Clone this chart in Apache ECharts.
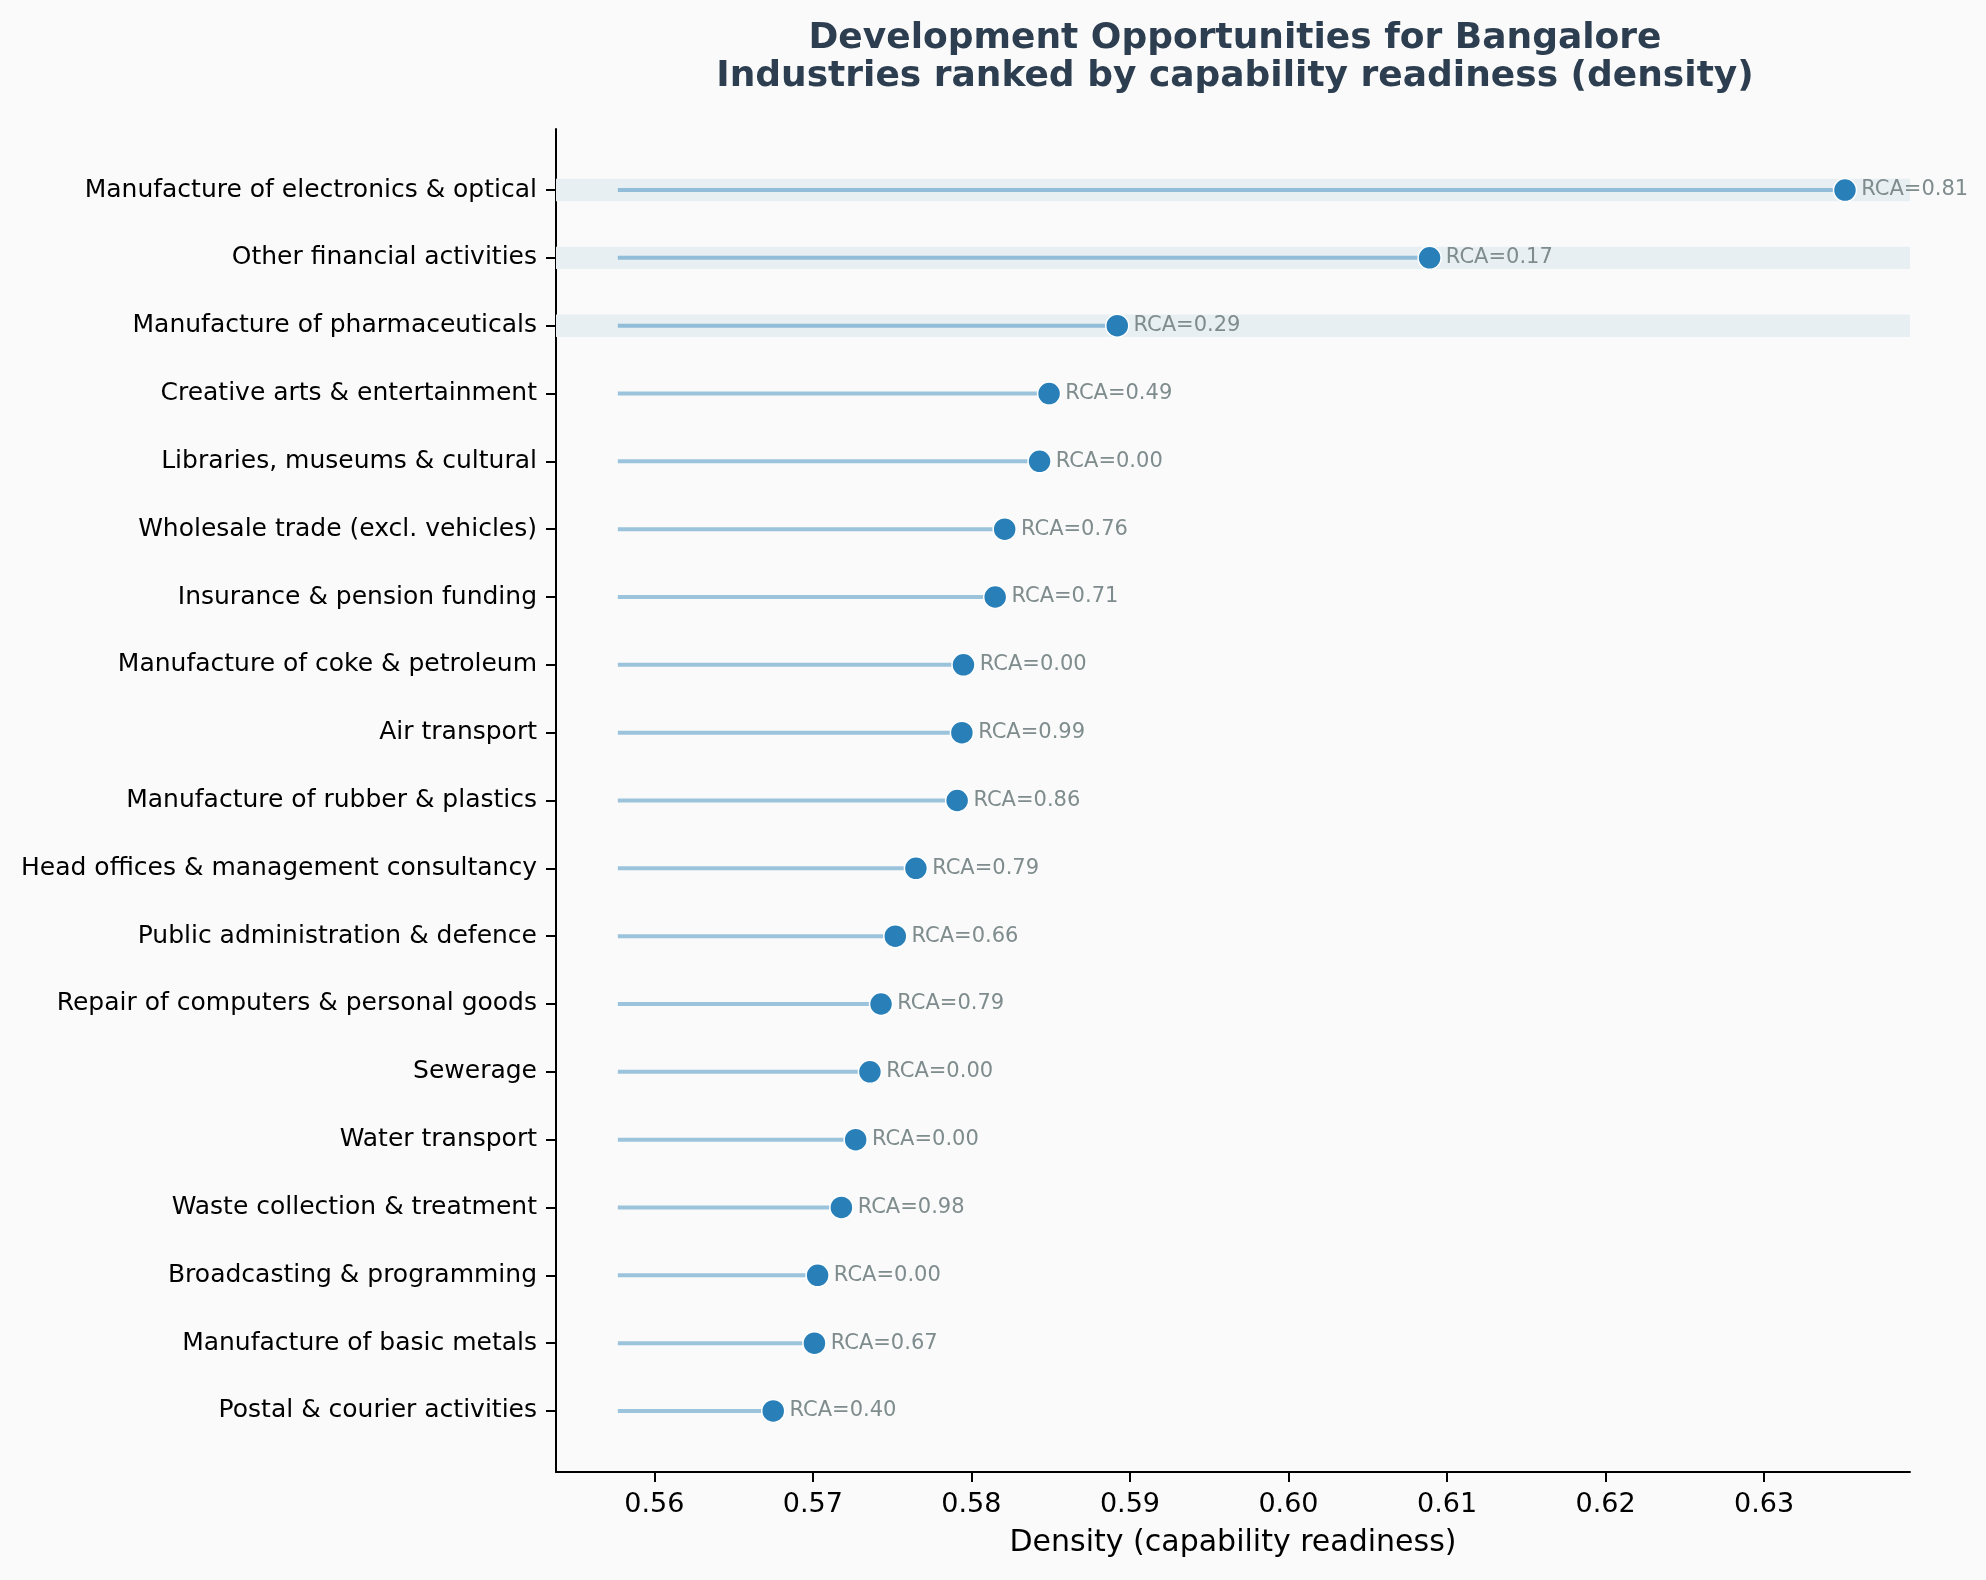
<!DOCTYPE html>
<html>
<head>
<meta charset="utf-8">
<script src="https://cdn.jsdelivr.net/npm/echarts@6/dist/echarts.min.js"></script>
<style>
html,body{margin:0;padding:0;background:#fafafa;}
#chart{width:1986px;height:1580px;}
</style>
</head>
<body>
<div id="chart"></div>
<script>
const industries = [
  "Manufacture of electronics & optical",
  "Other financial activities",
  "Manufacture of pharmaceuticals",
  "Creative arts & entertainment",
  "Libraries, museums & cultural",
  "Wholesale trade (excl. vehicles)",
  "Insurance & pension funding",
  "Manufacture of coke & petroleum",
  "Air transport",
  "Manufacture of rubber & plastics",
  "Head offices & management consultancy",
  "Public administration & defence",
  "Repair of computers & personal goods",
  "Sewerage",
  "Water transport",
  "Waste collection & treatment",
  "Broadcasting & programming",
  "Manufacture of basic metals",
  "Postal & courier activities"
];
const density = [0.6351, 0.6089, 0.5892, 0.5849, 0.5843, 0.5821, 0.5815, 0.5795, 0.5794, 0.5791,
                 0.5765, 0.5752, 0.5743, 0.5736, 0.5727, 0.5718, 0.5703, 0.5701, 0.5675];
const rca = [0.81, 0.17, 0.29, 0.49, 0.00, 0.76, 0.71, 0.00, 0.99, 0.86,
             0.79, 0.66, 0.79, 0.00, 0.00, 0.98, 0.00, 0.67, 0.40];
const highlighted = [0, 1, 2];
const stemStart = 0.5577;
const xTicks = [0.56, 0.57, 0.58, 0.59, 0.60, 0.61, 0.62, 0.63];
const xMin = 0.5538, xMax = 0.6392;

const rowIdx = industries.map((_, i) => i);
const pts = density.map((d, i) => [d, i, rca[i]]);

const chart = echarts.init(document.getElementById('chart'));
const FONT = 'DejaVu Sans';
chart.setOption({
  backgroundColor: '#fafafa',
  animation: false,
  title: {
    text: 'Development Opportunities for Bangalore\nIndustries ranked by capability readiness (density)',
    left: 1230,
    textAlign: 'center',
    top: 15,
    textStyle: {fontFamily: FONT, fontSize: 36, fontWeight: 'bold', color: '#2c3e50', lineHeight: 38}
  },
  grid: {left: 556, right: 76, top: 129, bottom: 108, containLabel: false},
  xAxis: {
    type: 'value', min: xMin, max: xMax,
    name: 'Density (capability readiness)', nameLocation: 'middle', nameGap: 56,
    nameTextStyle: {fontFamily: FONT, fontSize: 30, color: '#000'},
    axisLine: {show: true, onZero: false, lineStyle: {color: '#000', width: 2}},
    axisTick: {show: true, length: 10, lineStyle: {color: '#000', width: 2}, customValues: xTicks},
    axisLabel: {show: true, margin: 19, fontFamily: FONT, fontSize: 27, color: '#000',
      customValues: xTicks, formatter: v => v.toFixed(2)},
    splitLine: {show: false}
  },
  yAxis: {
    type: 'value', min: -0.9, max: 18.9, inverse: true,
    axisLine: {show: true, onZero: false, lineStyle: {color: '#000', width: 2}},
    axisTick: {show: true, length: 10, lineStyle: {color: '#000', width: 2}, customValues: rowIdx},
    axisLabel: {show: true, margin: 19, fontFamily: FONT, fontSize: 25, color: '#000',
      customValues: rowIdx, formatter: v => industries[Math.round(v)]},
    splitLine: {show: false}
  },
  series: [
    {
      type: 'custom',
      data: pts,
      z: 2,
      renderItem: function (params, api) {
        const a = api.coord([stemStart, api.value(1)]);
        const b = api.coord([api.value(0), api.value(1)]);
        return {type: 'line', shape: {x1: a[0], y1: a[1], x2: b[0], y2: b[1]},
          style: {stroke: 'rgba(41,128,185,0.45)', lineWidth: 4}};
      },
      markArea: {
        silent: true,
        itemStyle: {color: '#e8eff3'},
        data: highlighted.map(i => [{yAxis: i - 0.165}, {yAxis: i + 0.165}])
      }
    },
    {
      type: 'scatter',
      data: pts,
      z: 3,
      symbolSize: 23,
      itemStyle: {color: '#2980b9', borderColor: '#ffffff', borderWidth: 1.5, opacity: 1},
      label: {show: true, position: 'right', distance: 4, fontFamily: FONT, fontSize: 21,
        color: '#7f8c8d', formatter: p => 'RCA=' + p.value[2].toFixed(2)}
    }
  ]
});
</script>
</body>
</html>
